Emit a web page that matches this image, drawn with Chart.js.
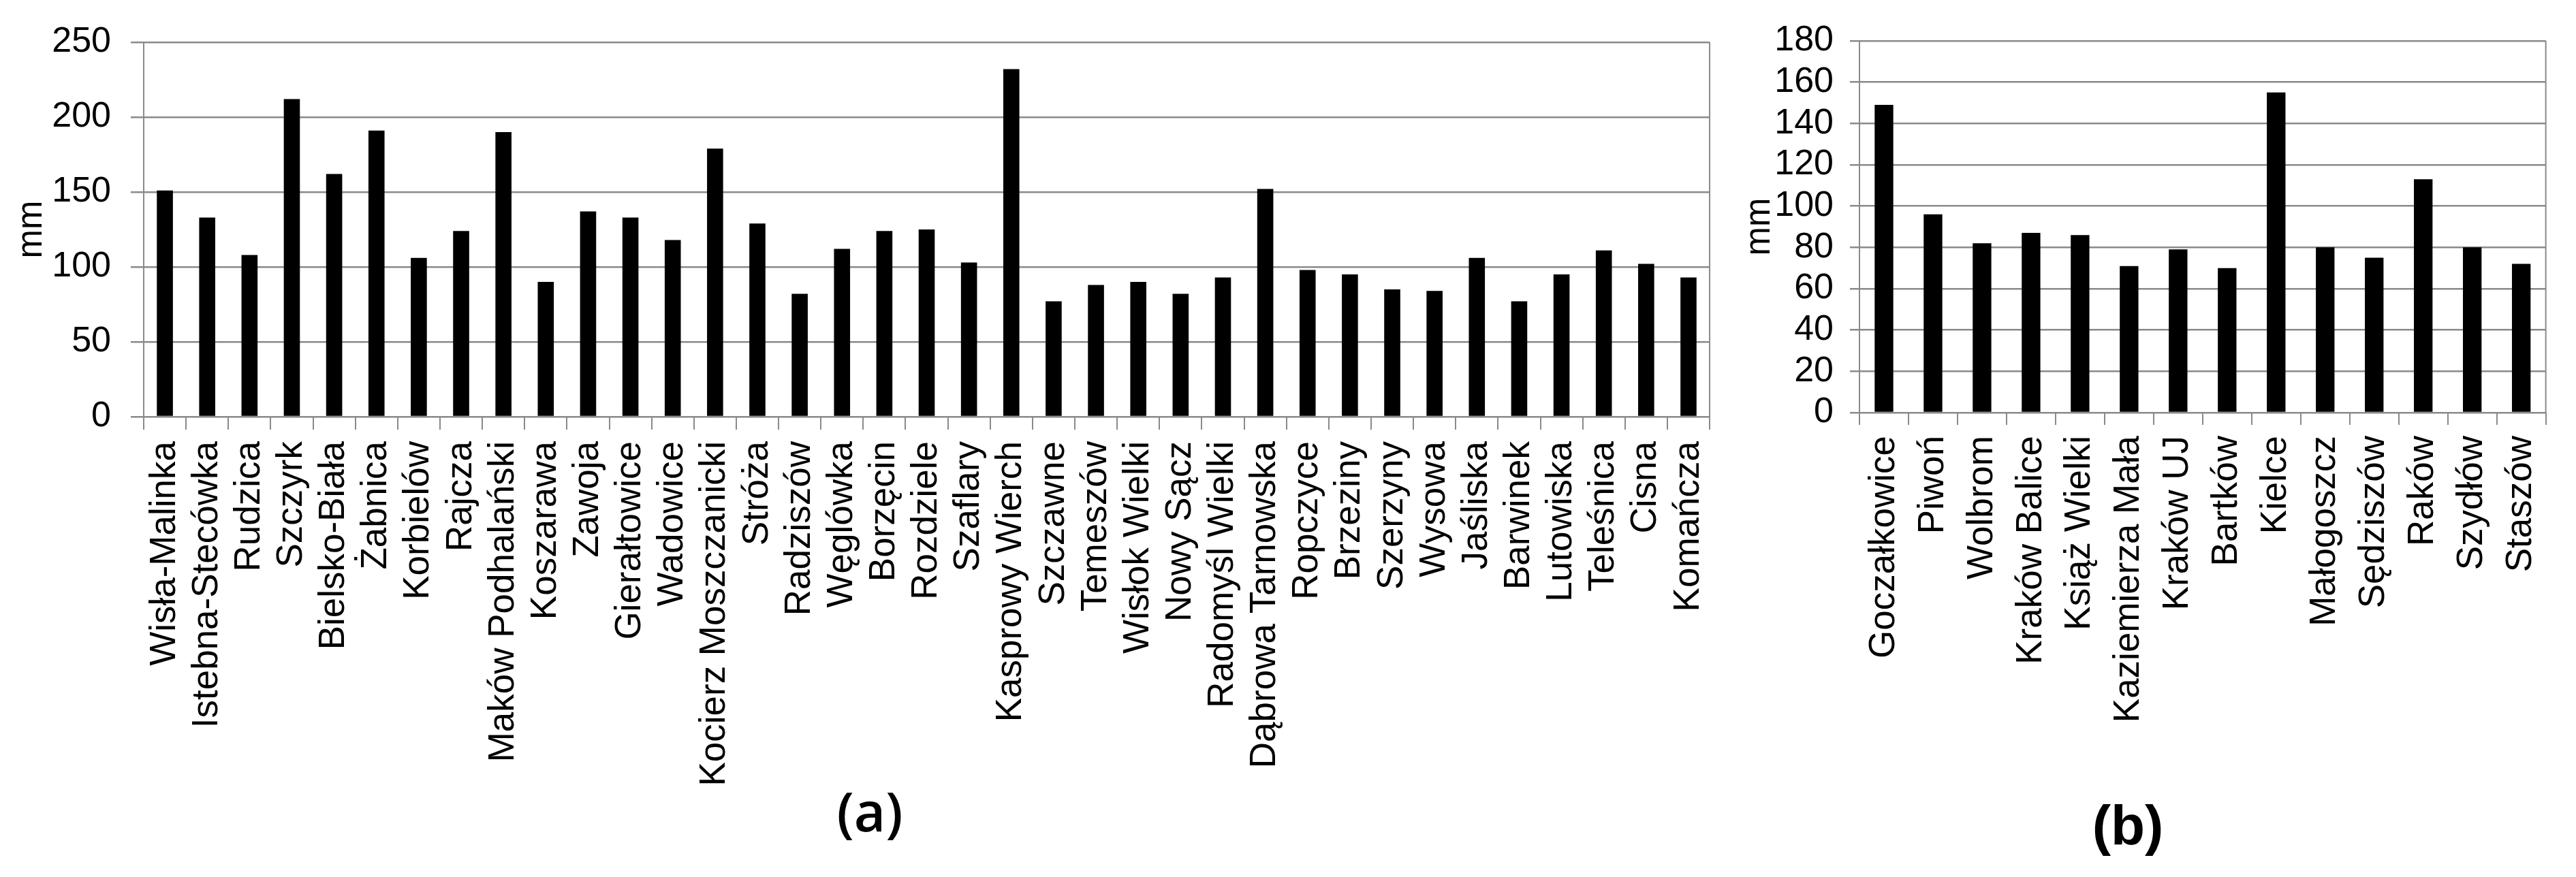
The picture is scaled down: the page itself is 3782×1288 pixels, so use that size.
<!DOCTYPE html>
<html>
<head>
<meta charset="utf-8">
<script src="https://cdn.jsdelivr.net/npm/chart.js@4"></script>
<style>
  body { margin: 0; background: #fff; width: 3782px; height: 1288px; position: relative; overflow: hidden; }
  canvas { position: absolute; top: 0; }
  .caption { position: absolute; width: 200px; text-align: center; line-height: 1; color: #000; }
</style>
</head>
<body>
<canvas id="chartA" style="left:0px" width="2560" height="1172"></canvas>
<canvas id="chartB" style="left:2480px" width="1302" height="1172"></canvas>
<div class="caption" style="left:1177px; top:1150px; font-family:'Open Sans'; font-weight:600; font-size:80px;">(a)</div>
<div class="caption" style="left:3024px; top:1171px; font-family:'Liberation Sans'; font-weight:bold; font-size:82px;">(b)</div>
<script>
// stacje (a)
const stacjeA = ['Wisła-Malinka', 'Istebna-Stecówka', 'Rudzica', 'Szczyrk', 'Bielsko-Biała', 'Żabnica',
  'Korbielów', 'Rajcza', 'Maków Podhalański', 'Koszarawa', 'Zawoja', 'Gierałtowice', 'Wadowice',
  'Kocierz Moszczanicki', 'Stróża', 'Radziszów', 'Węglówka', 'Borzęcin', 'Rozdziele', 'Szaflary',
  'Kasprowy Wierch', 'Szczawne', 'Temeszów', 'Wisłok Wielki', 'Nowy Sącz', 'Radomyśl Wielki',
  'Dąbrowa Tarnowska', 'Ropczyce', 'Brzeziny', 'Szerzyny', 'Wysowa', 'Jaśliska', 'Barwinek',
  'Lutowiska', 'Teleśnica', 'Cisna', 'Komańcza'];
const opadA = [151, 133, 108, 212, 162, 191, 106, 124, 190, 90, 137, 133, 118, 179, 129, 82, 112,
  124, 125, 103, 232, 77, 88, 90, 82, 93, 152, 98, 95, 85, 84, 106, 77, 95, 111, 102, 93];

// stacje (b)
const stacjeB = ['Goczałkowice', 'Piwoń', 'Wolbrom', 'Kraków Balice', 'Książ Wielki', 'Kaziemierza Mała',
  'Kraków UJ', 'Bartków', 'Kielce', 'Małogoszcz', 'Sędziszów', 'Raków', 'Szydłów', 'Staszów'];
const opadB = [149, 96, 82, 87, 86, 71, 79, 70, 155, 80, 75, 113, 80, 72];

const yTicksA = { min: 0, max: 250, step: 50 };
const yTicksB = { min: 0, max: 180, step: 20 };

const GRID = '#8a8a8a';

// ramka z prawej strony wykresu
const rightBorder = {
  id: 'rightBorder',
  afterDraw(chart) {
    const a = chart.chartArea;
    const ctx = chart.ctx;
    ctx.save();
    ctx.strokeStyle = GRID;
    ctx.lineWidth = 2;
    ctx.beginPath();
    ctx.moveTo(a.right, a.top);
    ctx.lineTo(a.right, a.bottom);
    ctx.stroke();
    ctx.restore();
  }
};

function makeChart(id, labels, values, yt, opt) {
  const ctx = document.getElementById(id).getContext('2d');
  return new Chart(ctx, {
    type: 'bar',
    data: {
      labels: labels,
      datasets: [{
        data: values,
        backgroundColor: '#000',
        barPercentage: 1,
        categoryPercentage: opt.barFrac
      }]
    },
    options: {
      responsive: false,
      animation: false,
      layout: { padding: opt.padding },
      plugins: { legend: { display: false }, tooltip: { enabled: false } },
      scales: {
        x: {
          grid: { offset: true, drawOnChartArea: false, drawTicks: true, tickLength: opt.xTick, color: GRID, lineWidth: 2 },
          border: { display: false },
          ticks: {
            autoSkip: false, minRotation: 90, maxRotation: 90, padding: opt.xPad,
            color: '#000', font: { family: 'Liberation Sans', size: 53 }
          },
          afterFit: s => { s.height = opt.xHeight; }
        },
        y: {
          min: yt.min, max: yt.max,
          grid: { color: GRID, lineWidth: 2.5, tickLength: opt.yTick },
          border: { display: true, color: GRID, width: 2 },
          ticks: {
            stepSize: yt.step, padding: opt.yPad, autoSkip: false,
            color: '#000', font: { family: 'Liberation Sans', size: 52 }
          },
          title: {
            display: true, text: 'mm', color: '#000', padding: 0,
            font: { family: 'Liberation Sans', size: 51 }
          },
          afterFit: s => { s.width = opt.yWidth; }
        }
      }
    },
    plugins: [rightBorder]
  });
}

makeChart('chartA', stacjeA, opadA, yTicksA, {
  barFrac: 0.38,
  padding: { left: 16, top: 62, right: 31, bottom: 0 },
  xHeight: 560, yWidth: 195,
  xTick: 19, xPad: 17, yTick: 19, yPad: 29
});

makeChart('chartB', stacjeB, opadB, yTicksB, {
  barFrac: 0.38,
  padding: { left: 73, top: 60, right: 21, bottom: 0 },
  xHeight: 566, yWidth: 177,
  xTick: 18, xPad: 16, yTick: 14, yPad: 24
});
</script>
</body>
</html>
